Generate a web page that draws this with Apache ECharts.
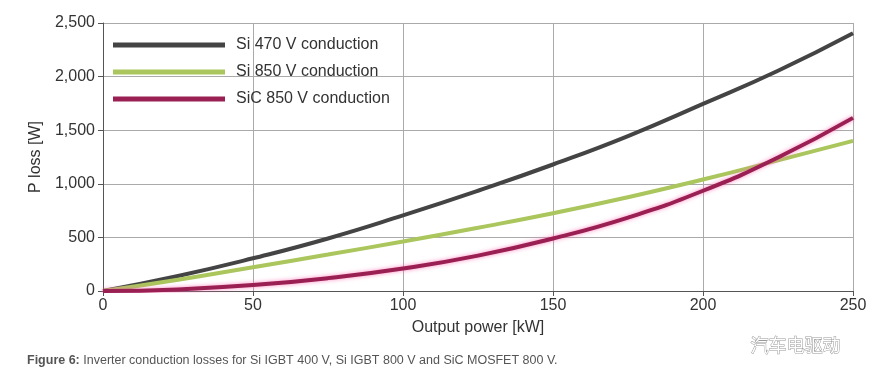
<!DOCTYPE html>
<html><head><meta charset="utf-8">
<script src="https://cdn.jsdelivr.net/npm/echarts@6/dist/echarts.min.js"></script>
<style>html,body{margin:0;padding:0;background:#fff}#c{width:872px;height:385px}</style>
</head><body><div id="c"></div>
<script>
const xValues = [0, 25, 50, 75, 100, 125, 150, 175, 200, 225, 250];
const si470 = [0, 140, 305, 490, 705, 935, 1180, 1445, 1745, 2055, 2405];
const si850 = [0, 105, 222, 340, 462, 590, 725, 875, 1040, 1218, 1400];
const sic850 = [0, 15, 55, 120, 210, 330, 490, 685, 935, 1245, 1615];
const seriesNames = ['Si 470 V conduction', 'Si 850 V conduction', 'SiC 850 V conduction'];
const caption = 'Inverter conduction losses for Si IGBT 400 V, Si IGBT 800 V and SiC MOSFET 800 V.';

const pair = a => xValues.map((x, i) => [x, a[i]]);
const font = 'Liberation Sans, Arial, sans-serif';
const chart = echarts.init(document.getElementById('c'));
chart.setOption({
  animation: false,
  grid: { left: 103, right: 19, top: 23, bottom: 94 },
  legend: {
    orient: 'vertical', left: 108, top: 31, itemGap: 9,
    itemWidth: 112, itemHeight: 5, icon: 'rect',
    textStyle: { fontFamily: font, fontSize: 16, color: '#333', lineHeight: 18, padding: [0, 0, 0, 6] },
    data: seriesNames
  },
  xAxis: {
    type: 'value', min: 0, max: 250, interval: 50,
    name: 'Output power [kW]', nameLocation: 'middle', nameGap: 29,
    nameTextStyle: { fontFamily: font, fontSize: 16, color: '#333' },
    axisLine: { show: true, lineStyle: { color: '#555', width: 1 } },
    axisTick: { show: true, length: 5, lineStyle: { color: '#555' } },
    axisLabel: { fontFamily: font, fontSize: 16, color: '#333', margin: 7 },
    splitLine: { show: true, lineStyle: { color: '#aaa', width: 1 } }
  },
  yAxis: {
    type: 'value', min: 0, max: 2500, interval: 500,
    name: 'P loss [W]', nameLocation: 'middle', nameGap: 58, nameRotate: 90,
    nameTextStyle: { fontFamily: font, fontSize: 16, color: '#333' },
    axisLine: { show: true, lineStyle: { color: '#555', width: 1 } },
    axisTick: { show: true, length: 5, lineStyle: { color: '#555' } },
    axisLabel: { fontFamily: font, fontSize: 16, color: '#333', margin: 8,
      formatter: v => v.toLocaleString('en-US') },
    splitLine: { show: true, lineStyle: { color: '#aaa', width: 1 } }
  },
  series: [
    { name: seriesNames[0], type: 'line', smooth: true, showSymbol: false, data: pair(si470),
      itemStyle: { color: '#444444' }, lineStyle: { color: '#444444', width: 4 } },
    { name: seriesNames[1], type: 'line', smooth: true, showSymbol: false, data: pair(si850),
      itemStyle: { color: '#aac65c' }, lineStyle: { color: '#aac65c', width: 4 } },
    { name: seriesNames[2], type: 'line', smooth: true, showSymbol: false, data: pair(sic850),
      itemStyle: { color: '#9a1f52' },
      lineStyle: { color: '#9a1f52', width: 4, shadowColor: 'rgba(255,110,180,0.8)', shadowBlur: 4 } }
  ],
  graphic: [
    { type: 'text', left: 27, top: 354,
      style: { text: '{b|Figure 6:} ' + caption,
        rich: { b: { fontWeight: 'bold', fontFamily: font, fontSize: 12.5, fill: '#555' } },
        fontFamily: font, fontSize: 12.5, fill: '#555' } },
    { type: 'text', left: 750, top: 336,
      style: { text: '汽车电驱动', fontFamily: 'Noto Sans CJK SC', fontSize: 18,
        fill: '#fff', stroke: '#999', lineWidth: 1 } }
  ]
});
</script></body></html>
